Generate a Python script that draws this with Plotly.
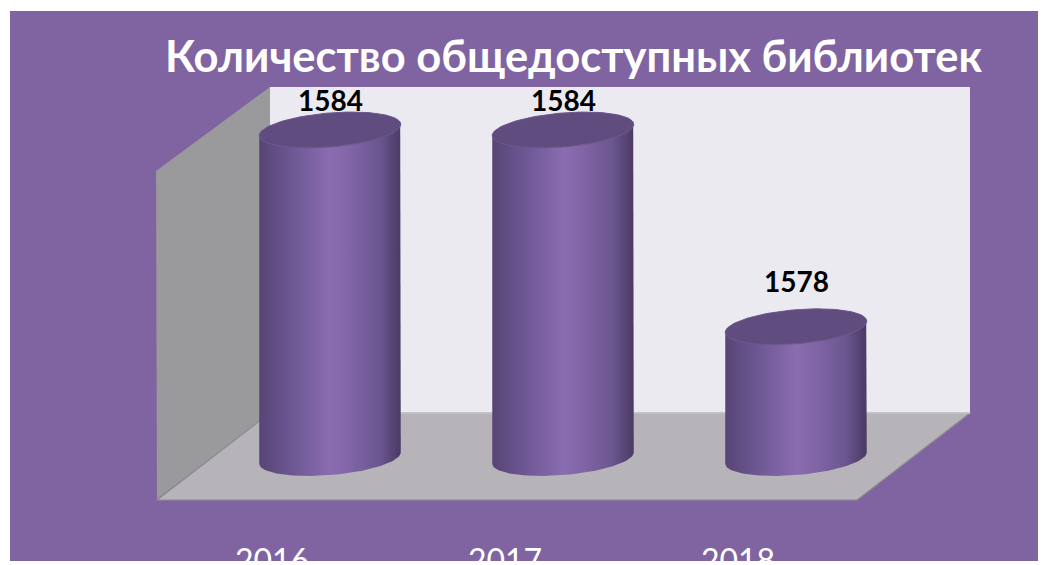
import numpy as np
import plotly.graph_objects as go

# ---- data ----
years = ["2016", "2017", "2018"]
values = [1584, 1584, 1578]
title_text = "Количество общедоступных библиотек"
axis_base = 1574  # value axis minimum (floor level)

# ---- layout constants (reference-window pixels) ----
OFF = 8                      # default page body margin
W, H = 1046 - OFF, 565 - OFF  # figure size
MB = 30
PLOT_H = H - MB
CAT0_PX, CAT_STEP_PX = 330, 233       # x pixel of first category, step
BASE_PX, PX_PER_UNIT = 458, 32.8      # y pixel of axis base, px per unit
HALF_W_PX, RY_PX, TILT = 71, 17, np.deg2rad(4.8)
LABEL_GAP_PX, LABEL_MIN_PX = 46, 100
TICK_SHIFT_PX = 58

x_range = [-(CAT0_PX - OFF) / CAT_STEP_PX, (W - (CAT0_PX - OFF)) / CAT_STEP_PX]
y_range = [axis_base - (PLOT_H - (BASE_PX - OFF)) / PX_PER_UNIT,
           axis_base + (BASE_PX - OFF) / PX_PER_UNIT]

def px(x):
    return (x - OFF) / W

def py(y):
    return (PLOT_H - (y - OFF)) / PLOT_H

def poly(points):
    return "M " + " L ".join(f"{px(a):.5f},{py(b):.5f}" for a, b in points) + " Z"

PURPLE = "#8064A2"
fig = go.Figure()

shapes = [
    # purple chart area
    dict(type="rect", xref="paper", yref="paper", x0=px(10), x1=px(1046 + 5), y0=py(11), y1=py(561),
         fillcolor=PURPLE, line=dict(width=0), layer="below"),
    # back wall
    dict(type="path", xref="paper", yref="paper", path=poly([(270, 87), (970, 87), (970, 413), (270, 413)]),
         fillcolor="#ECEAF1", line=dict(width=0), layer="below"),
    # left wall
    dict(type="path", xref="paper", yref="paper", path=poly([(156, 171), (270, 87), (270, 413), (157, 499)]),
         fillcolor="#9A999C", line=dict(width=0), layer="below"),
    # floor
    dict(type="path", xref="paper", yref="paper", path=poly([(270, 413), (970, 413), (857, 500), (157, 500)]),
         fillcolor="#B6B4B9", line=dict(color="#8E8D90", width=1.2), layer="below"),
    # back wall bottom edge
    dict(type="line", xref="paper", yref="paper", x0=px(270), x1=px(970), y0=py(413), y1=py(413),
         line=dict(color="#C9C7CC", width=1.5), layer="below"),
    # white bottom strip
    dict(type="rect", xref="paper", yref="paper", x0=px(-5), x1=px(1046 + 5), y0=py(561), y1=py(565 + 5),
         fillcolor="white", line=dict(width=0), layer="above"),
]

def ell(cx, cy, t):
    # ellipse built in pixel space (y up), tilted, converted back to data units
    X = HALF_W_PX * np.cos(t)
    Y = RY_PX * np.sin(t)
    Xr = X * np.cos(TILT) - Y * np.sin(TILT)
    Yr = X * np.sin(TILT) + Y * np.cos(TILT)
    return cx + Xr / CAT_STEP_PX, cy + Yr / PX_PER_UNIT

body_scale = [[0, "#574575"], [0.2, "#6A5590"], [0.5, "#8A6CB0"], [0.62, "#8366A8"],
              [0.85, "#6B5690"], [1, "#4A3A63"]]

annotations = []
for i, (yr, v) in enumerate(zip(years, values)):
    cx = i
    # body
    tb = np.linspace(np.pi, 2 * np.pi, 60)
    bx, by = ell(cx, axis_base, tb)
    tt = np.linspace(0, np.pi, 60)
    tx, ty = ell(cx, v, tt)
    xs = np.concatenate([bx, tx, [bx[0]]])
    ys = np.concatenate([by, ty, [by[0]]])
    fig.add_trace(go.Scatter(x=xs, y=ys, mode="lines", fill="toself",
                             line=dict(width=0, color="#5A4878"),
                             fillgradient=dict(type="horizontal", colorscale=body_scale),
                             hoverinfo="skip", showlegend=False))
    # top cap
    tc = np.linspace(0, 2 * np.pi, 120)
    cxs, cys = ell(cx, v, tc)
    fig.add_trace(go.Scatter(x=cxs, y=cys, mode="lines", fill="toself",
                             line=dict(width=1, color="#6E5A8E"),
                             fillcolor="#604C7F", hoverinfo="skip", showlegend=False))
    # value label
    top_px = BASE_PX - (v - axis_base) * PX_PER_UNIT
    lab_px = max(top_px - LABEL_GAP_PX, LABEL_MIN_PX)
    annotations.append(dict(x=cx, y=v, xref="x", yref="y", text=f"<b>{v}</b>", showarrow=False,
                            yshift=top_px - lab_px, xanchor="center", yanchor="middle",
                            font=dict(family="Lato", size=28, color="black")))

annotations.append(dict(x=px(573), y=py(55), xref="paper", yref="paper", text=f"<b>{title_text}</b>",
                        showarrow=False, xanchor="center", yanchor="middle",
                        font=dict(family="Lato", size=43.5, color="white")))

fig.update_layout(
    width=W, height=H,
    margin=dict(l=0, r=0, t=0, b=MB, pad=0),
    paper_bgcolor="white", plot_bgcolor="rgba(0,0,0,0)",
    shapes=shapes, annotations=annotations, showlegend=False,
    xaxis=dict(range=x_range, showgrid=False, zeroline=False, showline=False, ticks="",
               tickmode="array", tickvals=[i - TICK_SHIFT_PX / CAT_STEP_PX for i in range(len(years))],
               ticktext=years, tickfont=dict(family="Lato", size=32, color="white"),
               automargin=False, fixedrange=True, ticklabelstandoff=4),
    yaxis=dict(range=y_range, visible=False, automargin=False, fixedrange=True),
)

fig.write_html("out.html")
